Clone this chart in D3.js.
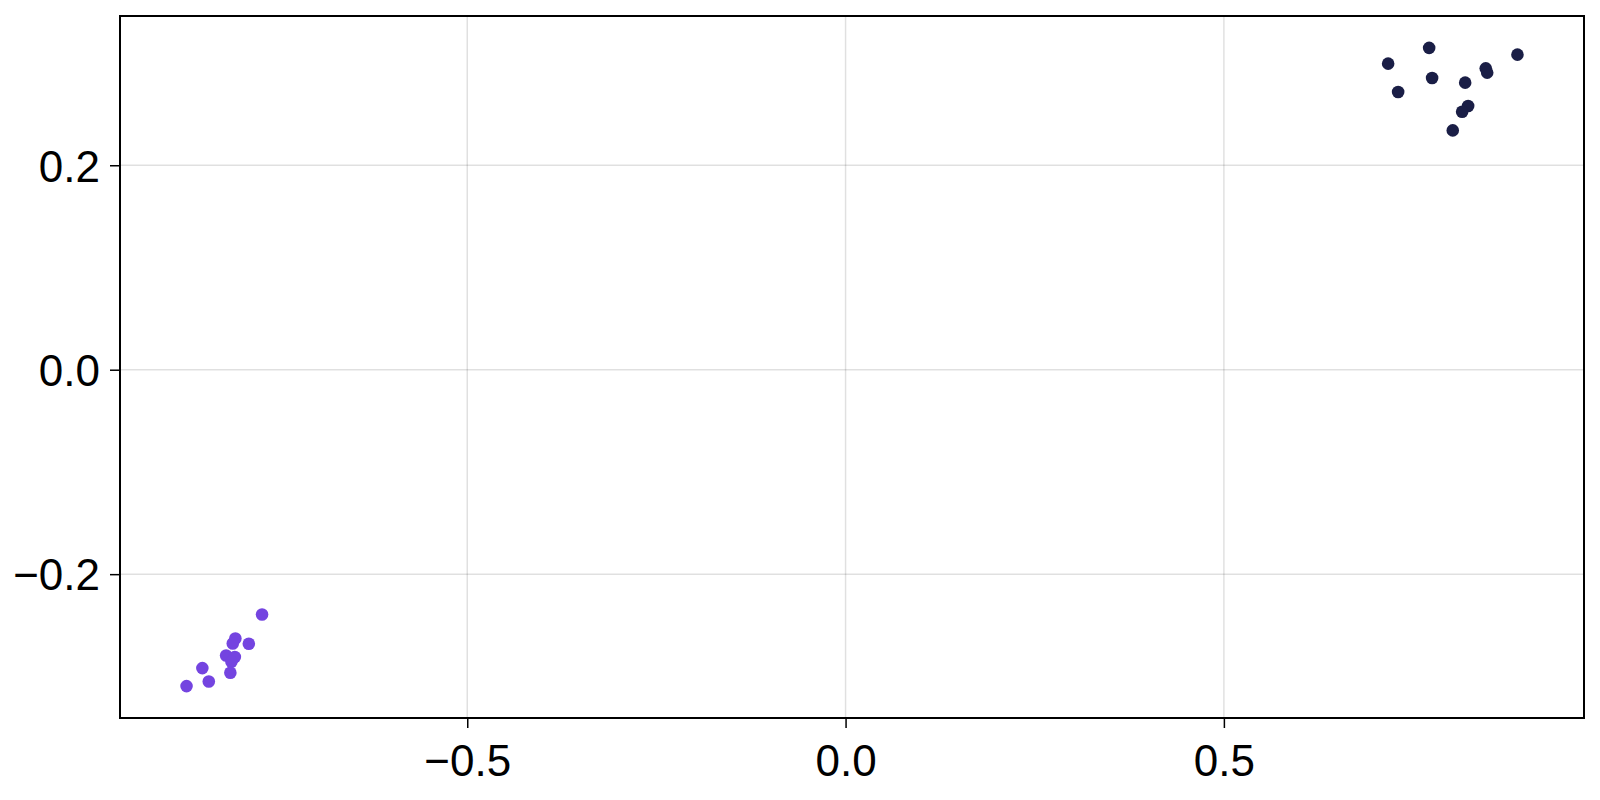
<!DOCTYPE html>
<html lang="en">
<head>
    <meta charset="UTF-8">
    <title>Scatter</title>
    <script src="https://cdn.jsdelivr.net/npm/d3@7"></script>
    <style>
        body { margin: 0; background: #fff; }
        text { font-family: "Liberation Sans", Arial, sans-serif; }
    </style>
</head>
<body>
<script>
    // group A (dark)
    let groupAx = [0.7713, 0.7171, 0.7752, 0.7303, 0.8189, 0.8461, 0.8480, 0.8228, 0.8149, 0.8025, 0.8880];
    let groupAy = [0.3148, 0.2994, 0.2854, 0.2717, 0.2808, 0.2948, 0.2906, 0.2580, 0.2524, 0.2341, 0.3082];
    // group B (purple)
    let groupBx = [-0.7712, -0.8065, -0.8099, -0.7887, -0.8187, -0.8072, -0.8117, -0.8501, -0.8131, -0.8416, -0.8710];
    let groupBy = [-0.2394, -0.2629, -0.2678, -0.2681, -0.2796, -0.2811, -0.2857, -0.2919, -0.2965, -0.3050, -0.3095];

    let xTicks = [-0.5, 0.0, 0.5];
    let yTicks = [-0.2, 0.0, 0.2];

    let width = 1600,
        height = 800,
        padding = { top: 16, left: 120, bottom: 82, right: 16 };

    let svg = d3.select('body').append('svg').attr('width', width).attr('height', height);

    // 5% margin around the data, like the original autolimits
    let allX = groupAx.concat(groupBx), allY = groupAy.concat(groupBy);
    let xMin = d3.min(allX), xMax = d3.max(allX);
    let yMin = d3.min(allY), yMax = d3.max(allY);
    let xPad = (xMax - xMin) * 0.05, yPad = (yMax - yMin) * 0.05;

    let x = d3.scaleLinear()
        .domain([xMin - xPad, xMax + xPad])
        .range([padding.left, width - padding.right]);
    let y = d3.scaleLinear()
        .domain([yMin - yPad, yMax + yPad])
        .range([height - padding.bottom, padding.top]);

    let fmt = v => d3.format('.1f')(v).replace('-', '\u2212');

    // grid
    svg.append('g').selectAll('line').data(xTicks).enter().append('line')
        .attr('x1', d => x(d)).attr('x2', d => x(d))
        .attr('y1', padding.top).attr('y2', height - padding.bottom)
        .attr('stroke', '#000').attr('stroke-opacity', 0.12).attr('stroke-width', 1.5);
    svg.append('g').selectAll('line').data(yTicks).enter().append('line')
        .attr('y1', d => y(d)).attr('y2', d => y(d))
        .attr('x1', padding.left).attr('x2', width - padding.right)
        .attr('stroke', '#000').attr('stroke-opacity', 0.12).attr('stroke-width', 1.5);

    // axes
    let xAxis = d3.axisBottom(x).tickValues(xTicks).tickSize(10).tickPadding(17).tickFormat(fmt);
    let yAxis = d3.axisLeft(y).tickValues(yTicks).tickSize(10).tickPadding(10).tickFormat(fmt);

    let gx = svg.append('g')
        .attr('transform', 'translate(0,' + (height - padding.bottom) + ')')
        .call(xAxis);
    let gy = svg.append('g')
        .attr('transform', 'translate(' + padding.left + ',0)')
        .call(yAxis);
    [gx, gy].forEach(g => {
        g.select('.domain').remove();
        g.selectAll('.tick line').attr('stroke', '#000').attr('stroke-width', 1.5);
        g.selectAll('.tick text')
            .attr('fill', '#000')
            .style('font-size', '44px')
            .style('font-family', '"Liberation Sans", Arial, sans-serif');
    });
    gy.selectAll('.tick text').attr('dy', '0.36em');

    // frame
    svg.append('rect')
        .attr('x', padding.left).attr('y', padding.top)
        .attr('width', width - padding.left - padding.right)
        .attr('height', height - padding.top - padding.bottom)
        .attr('fill', 'none').attr('stroke', '#000').attr('stroke-width', 2);

    // points
    svg.append('g').selectAll('circle').data(d3.range(groupAx.length)).enter().append('circle')
        .attr('cx', i => x(groupAx[i]))
        .attr('cy', i => y(groupAy[i]))
        .attr('r', 6.3)
        .attr('fill', '#1a1e46');
    svg.append('g').selectAll('circle').data(d3.range(groupBx.length)).enter().append('circle')
        .attr('cx', i => x(groupBx[i]))
        .attr('cy', i => y(groupBy[i]))
        .attr('r', 6.3)
        .attr('fill', '#7444e0');
</script>
</body>
</html>
